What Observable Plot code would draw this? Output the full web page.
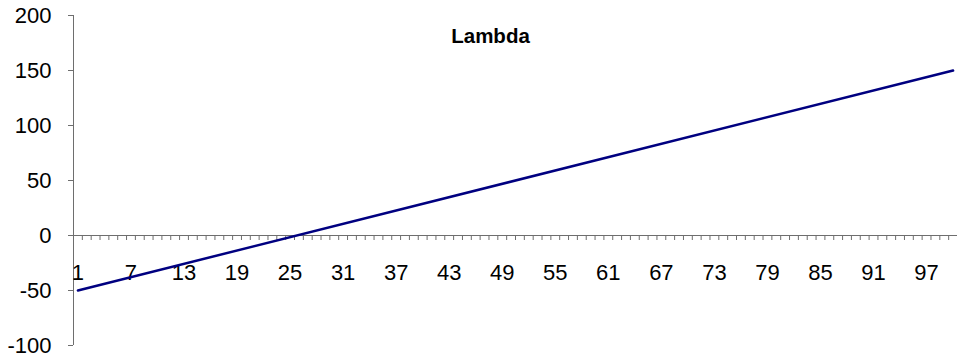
<!DOCTYPE html>
<html>
<head>
<meta charset="utf-8">
<script src="https://cdn.jsdelivr.net/npm/d3@7"></script>
<script src="https://cdn.jsdelivr.net/npm/@observablehq/plot@0.6"></script>
<style>
  html, body { margin: 0; padding: 0; background: #fff; }
  #chart svg { display: block; }
</style>
</head>
<body>
<div id="chart"></div>
<script>
// Category axis: periods 1..100, labelled every sixth period
const categoryCount = 100;
const xTickLabels = [1, 7, 13, 19, 25, 31, 37, 43, 49, 55, 61, 67, 73, 79, 85, 91, 97];
const yTicks = [-100, -50, 0, 50, 100, 150, 200];

// Lambda series (a straight line between its first and last period)
const lambdaPeriods = [1, 100];
const lambdaValues = [-50, 150];

const categories = d3.range(1, categoryCount + 1);
const boundaries = d3.range(0.5, categoryCount + 1, 1);
const lambda = lambdaPeriods.map((p, i) => ({period: p, value: lambdaValues[i]}));

const axisColor = "#6e6e6e";
const font = "'Liberation Sans', Arial, Helvetica, sans-serif";

const chart = Plot.plot({
  width: 957,
  height: 356,
  marginLeft: 73,
  marginRight: 0,
  marginTop: 15,
  marginBottom: 11,
  style: {fontFamily: font, background: "#fff", color: "#000"},
  x: {domain: [0.5, categories.length + 0.5], axis: null},
  y: {domain: [-100, 200], axis: null},
  marks: [
    // value axis
    Plot.ruleX([0.5], {stroke: axisColor, strokeWidth: 1}),
    Plot.axisY(yTicks, {
      tickSize: 5, tickPadding: 17, fontSize: 22,
      stroke: axisColor, fill: "#000",
      tickFormat: d => String(d), label: null
    }),
    // category axis crossing at zero
    Plot.ruleY([0], {stroke: axisColor, strokeWidth: 1}),
    Plot.ruleX(boundaries, {x: d => d, y1: 0, y2: 0, insetBottom: -5, stroke: axisColor, strokeWidth: 1}),
    Plot.text(xTickLabels, {x: d => d, y: 0, dy: 37.5, text: d => String(d), fontSize: 22, fill: "#000"}),
    // title
    Plot.text(["Lambda"], {frameAnchor: "top", lineAnchor: "middle", dx: -25, dy: 21, text: d => d, fontSize: 20.5, fontWeight: "bold", fill: "#000"}),
    // series
    Plot.line(lambda, {x: "period", y: "value", stroke: "#000080", strokeWidth: 2.5})
  ]
});

document.getElementById("chart").appendChild(chart);
</script>
</body>
</html>
